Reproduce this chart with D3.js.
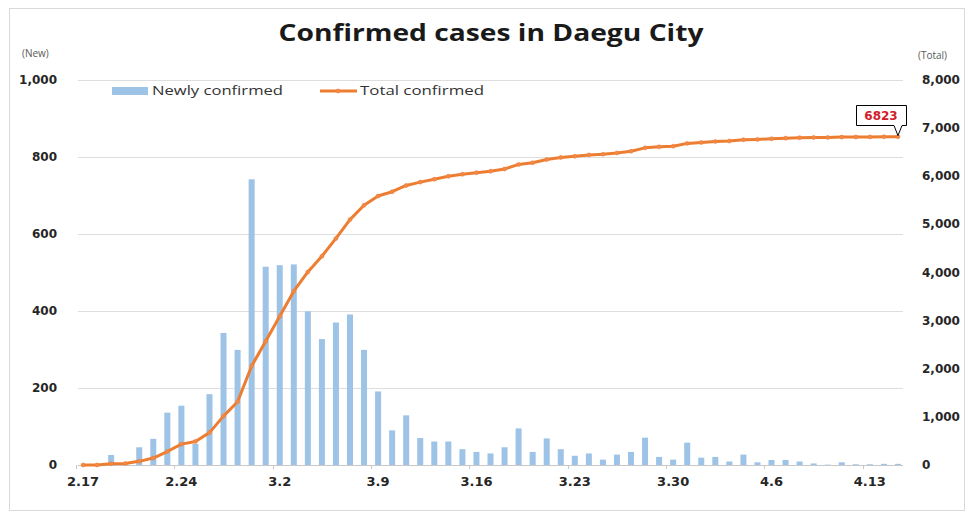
<!DOCTYPE html>
<html>
<head>
<meta charset="utf-8">
<script src="https://cdn.jsdelivr.net/npm/d3@7"></script>
<style>
    body { margin: 0; background: #fff; }
    #chart { display: block; }
    .tick-label { font-family: "DejaVu Sans", sans-serif; font-weight: bold; fill: #262626; }
</style>
</head>
<body>
<svg id="chart"></svg>
<script>
var dates = ["2.17", "2.18", "2.19", "2.20", "2.21", "2.22", "2.23", "2.24", "2.25", "2.26",
    "2.27", "2.28", "2.29", "3.1", "3.2", "3.3", "3.4", "3.5", "3.6", "3.7",
    "3.8", "3.9", "3.10", "3.11", "3.12", "3.13", "3.14", "3.15", "3.16", "3.17",
    "3.18", "3.19", "3.20", "3.21", "3.22", "3.23", "3.24", "3.25", "3.26", "3.27",
    "3.28", "3.29", "3.30", "3.31", "4.1", "4.2", "4.3", "4.4", "4.5", "4.6",
    "4.7", "4.8", "4.9", "4.10", "4.11", "4.12", "4.13", "4.14", "4.15"];

var newCases = [0, 1, 26, 3, 46, 68, 136, 154, 55, 184,
    343, 299, 742, 515, 519, 521, 399, 327, 370, 391,
    299, 191, 90, 129, 70, 61, 61, 41, 34, 30,
    46, 95, 34, 69, 41, 24, 30, 14, 27, 34,
    71, 21, 14, 58, 19, 21, 9, 27, 7, 13,
    13, 9, 4, 1, 7, 2, 2, 3, 3];

var totalCases = [0, 1, 27, 30, 76, 144, 280, 434, 489, 673,
    1016, 1315, 2057, 2572, 3091, 3612, 4011, 4338, 4708, 5099,
    5398, 5589, 5679, 5808, 5878, 5939, 6000, 6041, 6075, 6105,
    6151, 6246, 6280, 6349, 6390, 6414, 6444, 6458, 6485, 6519,
    6590, 6611, 6625, 6683, 6702, 6723, 6732, 6759, 6766, 6779,
    6792, 6801, 6805, 6806, 6813, 6815, 6817, 6820, 6823];

var xTickLabels = ["2.17", "2.24", "3.2", "3.9", "3.16", "3.23", "3.30", "4.6", "4.13"];
var leftTicks = [0, 200, 400, 600, 800, 1000];
var rightTicks = [0, 1000, 2000, 3000, 4000, 5000, 6000, 7000, 8000];

var W = 968, H = 514;
var plot = {left: 76, right: 905, top: 80, bottom: 465};

var svg = d3.select("#chart")
    .attr("width", W)
    .attr("height", H);

// frame
svg.append("rect")
    .attr("x", 9.5).attr("y", 8.5)
    .attr("width", 955).attr("height", 502)
    .attr("fill", "none")
    .attr("stroke", "#d9d9d9");

var x = d3.scaleBand()
    .domain(dates)
    .range([plot.left, plot.right]);

var yNew = d3.scaleLinear()
    .domain([0, 1000])
    .range([plot.bottom, plot.top]);

var yTotal = d3.scaleLinear()
    .domain([0, 8000])
    .range([plot.bottom, plot.top]);

// title
svg.append("text")
    .attr("x", 491)
    .attr("y", 41)
    .attr("text-anchor", "middle")
    .attr("textLength", 425)
    .attr("lengthAdjust", "spacingAndGlyphs")
    .style("font-family", "'Open Sans', sans-serif")
    .style("font-weight", "bold")
    .style("font-size", "23px")
    .style("fill", "#1a1a1a")
    .text("Confirmed cases in Daegu City");

svg.append("text")
    .attr("x", 22).attr("y", 57)
    .style("font-family", "'Open Sans', sans-serif")
    .style("font-size", "10px")
    .style("fill", "#595959")
    .text("(New)");

svg.append("text")
    .attr("x", 918).attr("y", 59)
    .style("font-family", "'Open Sans', sans-serif")
    .style("font-size", "10px")
    .style("fill", "#595959")
    .text("(Total)");

// gridlines
svg.append("g")
    .selectAll("line")
    .data(leftTicks)
    .enter().append("line")
    .attr("x1", plot.left + 2)
    .attr("x2", plot.right - 2)
    .attr("y1", function(d) { return Math.round(yNew(d)) + 0.5; })
    .attr("y2", function(d) { return Math.round(yNew(d)) + 0.5; })
    .attr("stroke", function(d) { return d === 0 ? "#c8c8c8" : "#dedede"; })
    .attr("stroke-width", 1);

// left axis labels
svg.append("g")
    .selectAll("text")
    .data(leftTicks)
    .enter().append("text")
    .attr("class", "tick-label")
    .attr("x", 57)
    .attr("y", function(d) { return yNew(d) + 4; })
    .attr("text-anchor", "end")
    .style("font-size", "12px")
    .text(function(d) { return d3.format(",")(d); });

// right axis labels
svg.append("g")
    .selectAll("text")
    .data(rightTicks)
    .enter().append("text")
    .attr("class", "tick-label")
    .attr("x", 922)
    .attr("y", function(d) { return yTotal(d) + 4; })
    .attr("text-anchor", "start")
    .style("font-size", "12px")
    .text(function(d) { return d3.format(",")(d); });

// x tick marks between categories, every 7 days
svg.append("g")
    .selectAll("line")
    .data(xTickLabels)
    .enter().append("line")
    .attr("x1", function(d) { return Math.round(x(d)) + 0.5; })
    .attr("x2", function(d) { return Math.round(x(d)) + 0.5; })
    .attr("y1", plot.bottom)
    .attr("y2", plot.bottom + 4)
    .attr("stroke", "#c8c8c8");

svg.append("g")
    .selectAll("text")
    .data(xTickLabels)
    .enter().append("text")
    .attr("class", "tick-label")
    .attr("x", function(d) { return x(d) + x.bandwidth() / 2; })
    .attr("y", 486)
    .attr("text-anchor", "middle")
    .style("font-size", "13px")
    .text(function(d) { return d; });

// bars
var barW = 6;
svg.append("g")
    .selectAll("rect")
    .data(newCases)
    .enter().append("rect")
    .attr("x", function(d, i) { return x(dates[i]) + x.bandwidth() / 2 - barW / 2; })
    .attr("y", function(d) { return yNew(d); })
    .attr("width", barW)
    .attr("height", function(d) { return plot.bottom - yNew(d); })
    .attr("fill", "#9dc3e6");

// total line
var line = d3.line()
    .x(function(d, i) { return x(dates[i]) + x.bandwidth() / 2; })
    .y(function(d) { return yTotal(d); });

svg.append("path")
    .datum(totalCases)
    .attr("d", line)
    .attr("fill", "none")
    .attr("stroke", "#ed7d31")
    .attr("stroke-width", 3)
    .attr("stroke-linejoin", "round");

svg.append("g")
    .selectAll("circle")
    .data(totalCases)
    .enter().append("circle")
    .attr("cx", function(d, i) { return x(dates[i]) + x.bandwidth() / 2; })
    .attr("cy", function(d) { return yTotal(d); })
    .attr("r", 2)
    .attr("fill", "#f08a45")
    .attr("stroke", "#ee8040")
    .attr("stroke-width", 0.6);

// callout for the last value
var lastI = totalCases.length - 1;
var px = x(dates[lastI]) + x.bandwidth() / 2,
    py = yTotal(totalCases[lastI]);
var box = {x: 856, y: 105, w: 50, h: 20};

svg.append("path")
    .attr("d", "M" + (box.x + 0.5) + "," + (box.y + 0.5) +
        " H" + (box.x + box.w + 0.5) +
        " V" + (box.y + box.h + 0.5) +
        " H" + (box.x + box.w - 4) +
        " L" + px + "," + (py - 1) +
        " L" + (box.x + box.w - 12) + "," + (box.y + box.h + 0.5) +
        " H" + (box.x + 0.5) + " Z")
    .attr("fill", "#fff")
    .attr("stroke", "#000")
    .attr("stroke-width", 1);

svg.append("text")
    .attr("x", box.x + box.w / 2)
    .attr("y", box.y + 15)
    .attr("text-anchor", "middle")
    .style("font-family", "'DejaVu Sans', sans-serif")
    .style("font-weight", "bold")
    .style("font-size", "12px")
    .style("fill", "#d0202a")
    .text(totalCases[lastI]);

// legend
var legend = svg.append("g");

legend.append("rect")
    .attr("x", 112).attr("y", 87)
    .attr("width", 36).attr("height", 8)
    .attr("fill", "#9dc3e6");

legend.append("text")
    .attr("x", 152).attr("y", 95)
    .attr("textLength", 131)
    .attr("lengthAdjust", "spacingAndGlyphs")
    .style("font-family", "'Open Sans', sans-serif")
    .style("font-size", "13px")
    .style("fill", "#333")
    .text("Newly confirmed");

legend.append("line")
    .attr("x1", 320).attr("x2", 357)
    .attr("y1", 91).attr("y2", 91)
    .attr("stroke", "#ed7d31")
    .attr("stroke-width", 3);

legend.append("circle")
    .attr("cx", 338).attr("cy", 91)
    .attr("r", 2)
    .attr("fill", "#f08a45")
    .attr("stroke", "#ee8040")
    .attr("stroke-width", 0.6);

legend.append("text")
    .attr("x", 360).attr("y", 95)
    .attr("textLength", 124)
    .attr("lengthAdjust", "spacingAndGlyphs")
    .style("font-family", "'Open Sans', sans-serif")
    .style("font-size", "13px")
    .style("fill", "#333")
    .text("Total confirmed");
</script>
</body>
</html>
